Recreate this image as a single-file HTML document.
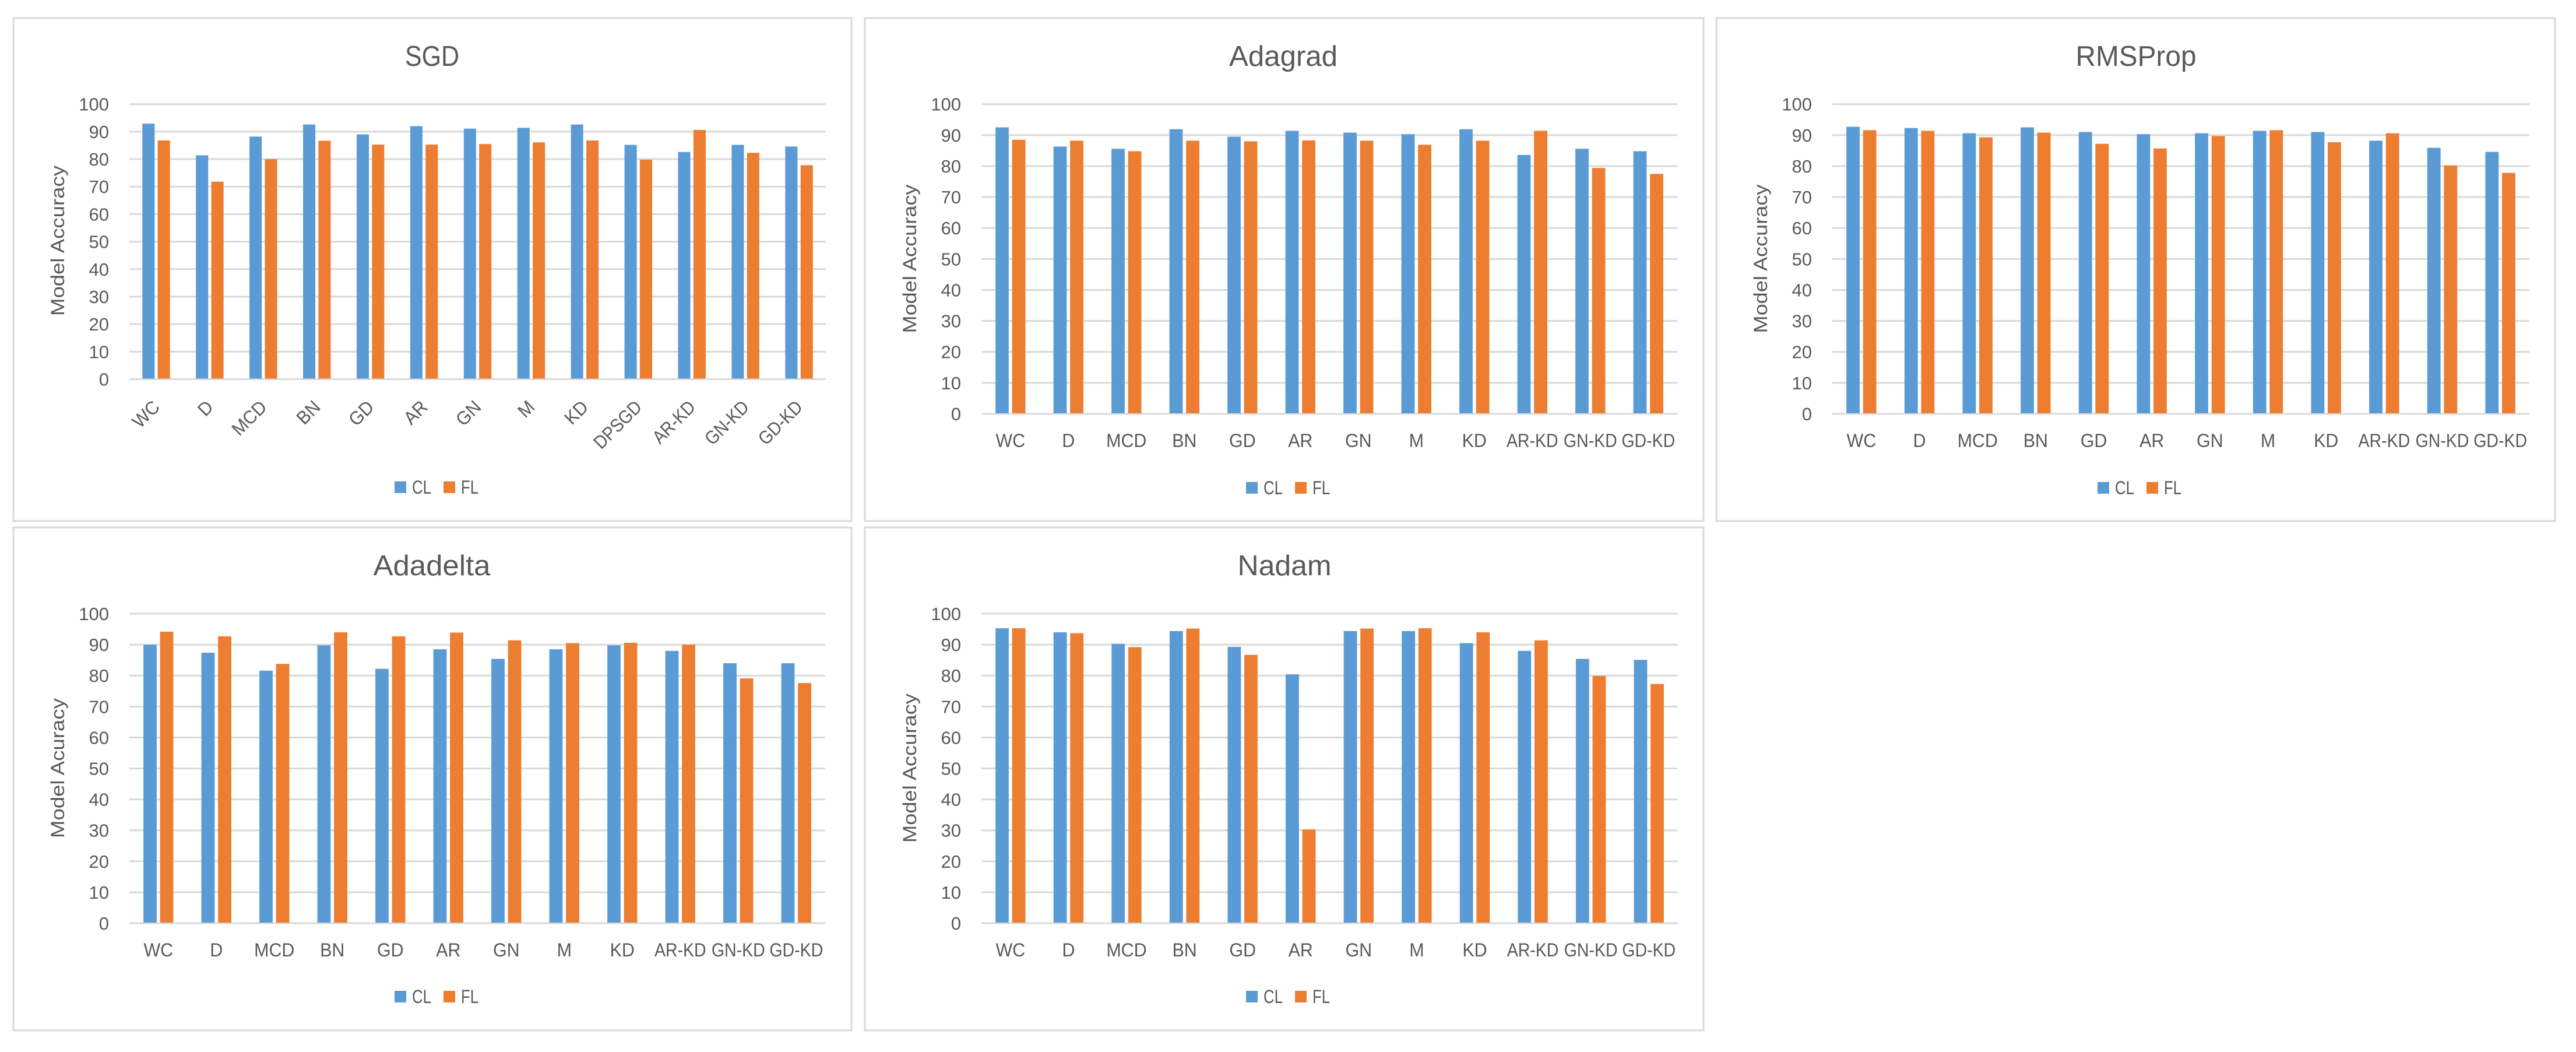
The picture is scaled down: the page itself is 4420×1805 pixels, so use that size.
<!DOCTYPE html>
<html lang="en">
<head>
<meta charset="utf-8">
<title>Model accuracy by optimizer</title>
<style>
html,body{margin:0;padding:0;background:#fff;width:4420px;height:1805px;overflow:hidden}
svg{display:block;font-family:"Liberation Sans",sans-serif}
</style>
</head>
<body>
<svg id="figure" xmlns="http://www.w3.org/2000/svg" width="4420" height="1805" viewBox="0 0 4420 1805"></svg>
<script>
const labels13 = ["WC","D","MCD","BN","GD","AR","GN","M","KD","DPSGD","AR-KD","GN-KD","GD-KD"];
const labels12 = ["WC","D","MCD","BN","GD","AR","GN","M","KD","AR-KD","GN-KD","GD-KD"];
const yTicks = [0,10,20,30,40,50,60,70,80,90,100];

const sgdCL = [92.9,81.4,88.2,92.6,89.0,92.0,91.1,91.4,92.6,85.2,82.6,85.2,84.6];
const sgdFL = [86.8,71.8,80.0,86.7,85.3,85.3,85.5,86.1,86.8,79.8,90.6,82.3,77.8];

const adagradCL = [92.5,86.3,85.6,91.9,89.5,91.4,90.8,90.3,91.9,83.6,85.6,84.8];
const adagradFL = [88.5,88.2,84.8,88.2,88.0,88.3,88.2,86.9,88.2,91.4,79.4,77.5];

const rmspropCL = [92.7,92.3,90.6,92.5,91.0,90.3,90.6,91.4,91.0,88.2,85.9,84.6];
const rmspropFL = [91.6,91.4,89.3,90.8,87.2,85.7,89.7,91.6,87.7,90.6,80.2,77.8];

const adadeltaCL = [90.0,87.4,81.6,89.8,82.2,88.5,85.4,88.5,89.8,88.0,84.0,84.0];
const adadeltaFL = [94.2,92.7,83.8,94.0,92.7,93.9,91.4,90.5,90.6,90.0,79.1,77.6];

const nadamCL = [95.3,94.0,90.3,94.4,89.3,80.4,94.4,94.4,90.5,88.0,85.4,85.1];
const nadamFL = [95.3,93.7,89.2,95.2,86.7,30.3,95.2,95.3,94.0,91.4,79.9,77.3];

const NS = "http://www.w3.org/2000/svg";
const TEXT = "#595959", GRID = "#d9d9d9", BLUE = "#5b9bd5", ORANGE = "#ed7d31";
const figure = document.getElementById("figure");

function makeText(parent, str, x, y, size, anchor, width) {
  const t = document.createElementNS(NS, "text");
  t.textContent = str;
  t.setAttribute("x", x);
  t.setAttribute("y", y);
  t.setAttribute("font-size", size);
  t.setAttribute("fill", TEXT);
  t.setAttribute("text-anchor", anchor);
  if (width) {
    t.setAttribute("textLength", width);
    t.setAttribute("lengthAdjust", "spacingAndGlyphs");
  }
  parent.appendChild(t);
  return t;
}

function makeRect(parent, x, y, w, h, fill) {
  const r = document.createElementNS(NS, "rect");
  r.setAttribute("x", x);
  r.setAttribute("y", y);
  r.setAttribute("width", w);
  r.setAttribute("height", h);
  r.setAttribute("fill", fill);
  parent.appendChild(r);
  return r;
}

function drawPanel(p) {
  const g = document.createElementNS(NS, "g");
  
  
  figure.appendChild(g);

  const card = makeRect(g, p.cardX, p.cardY, p.cardW, p.cardH, "#ffffff");
  card.setAttribute("stroke", GRID);
  card.setAttribute("stroke-width", "3");
  
  

  const yScale = v => p.y0 - (v / 100) * (p.y0 - p.y100);
  const band = (p.x1 - p.x0) / p.categories.length;
  const xCenter = i => p.x0 + band * (i + 0.5);
  const barW = band * 0.229;
  const halfGap = band * 0.029;

  const title = makeText(g, p.title, p.titleX, p.titleY, 49, "middle", p.titleW);
  
  

  const yTitle = makeText(g, p.yLabel, 0, 0, 32, "middle", p.yTitleLen);
  yTitle.setAttribute("transform", "translate(" + p.yTitleX + "," + p.yTitleY + ") rotate(-90)");
  
  

  yTicks.forEach(v => {
    const y = yScale(v);
    const line = document.createElementNS(NS, "line");
    line.setAttribute("x1", p.x0);
    line.setAttribute("x2", p.x1);
    line.setAttribute("y1", y);
    line.setAttribute("y2", y);
    line.setAttribute("stroke", GRID);
    line.setAttribute("stroke-width", "3");
    
    
    g.appendChild(line);

    const tick = makeText(g, String(v), p.x0 - 35, y + 11, 31, "end");
    
    
  });

  p.categories.forEach((cat, i) => {
    const cx = xCenter(i);
    const base = p.y0 - 1;

    const clTop = yScale(p.cl[i]);
    const clBar = makeRect(g, cx - halfGap - barW, clTop, barW, base - clTop, BLUE);
    
    

    const flTop = yScale(p.fl[i]);
    const flBar = makeRect(g, cx + halfGap, flTop, barW, base - flTop, ORANGE);
    
    

    const squeeze = cat.length > 3 ? 0.89 : 0.95;
    let label;
    if (p.rotated) {
      label = makeText(g, cat, 0, 0, 32, "end");
      label.setAttribute("transform", "translate(" + (cx + 8) + "," + (p.y0 + 50) + ") rotate(-45)");
    } else {
      label = makeText(g, cat, cx, p.y0 + 57, 32, "middle");
    }
    
    
    const w = label.getComputedTextLength();
    label.setAttribute("textLength", (w * squeeze).toFixed(1));
    label.setAttribute("lengthAdjust", "spacingAndGlyphs");
  });

  const ly = p.legendY;
  const clSwatch = makeRect(g, p.cardX + 654, ly - 10, 20, 20, BLUE);
  
  

  const clText = makeText(g, "CL", p.cardX + 684, ly + 11, 32, "start", 33);
  
  

  const flSwatch = makeRect(g, p.cardX + 738, ly - 10, 20, 20, ORANGE);
  
  

  const flText = makeText(g, "FL", p.cardX + 768, ly + 11, 32, "start", 30);
  
  
}

drawPanel({key:"sgd", title:"SGD", yLabel:"Model Accuracy", categories:labels13, cl:sgdCL, fl:sgdFL, rotated:true,
  cardX:23, cardY:31, cardW:1438, cardH:863, x0:222, x1:1417, y100:178.7, y0:650.5,
  titleX:741.5, titleY:113, titleW:93, yTitleX:110, yTitleY:413, yTitleLen:258, legendY:836});

drawPanel({key:"adagrad", title:"Adagrad", yLabel:"Model Accuracy", categories:labels12, cl:adagradCL, fl:adagradFL, rotated:false,
  cardX:1484, cardY:31, cardW:1439, cardH:863, x0:1684, x1:2878, y100:178.7, y0:710,
  titleX:2202, titleY:113, titleW:186, yTitleX:1572, yTitleY:444, yTitleLen:255, legendY:837});

drawPanel({key:"rmsprop", title:"RMSProp", yLabel:"Model Accuracy", categories:labels12, cl:rmspropCL, fl:rmspropFL, rotated:false,
  cardX:2945, cardY:31, cardW:1439, cardH:863, x0:3144, x1:4340, y100:178.7, y0:710,
  titleX:3665, titleY:113, titleW:207, yTitleX:3032, yTitleY:444, yTitleLen:255, legendY:837});

drawPanel({key:"adadelta", title:"Adadelta", yLabel:"Model Acuracy", categories:labels12, cl:adadeltaCL, fl:adadeltaFL, rotated:false,
  cardX:23, cardY:905, cardW:1438, cardH:863, x0:222, x1:1416, y100:1053, y0:1584,
  titleX:741, titleY:987, titleW:201, yTitleX:110, yTitleY:1318, yTitleLen:240, legendY:1710});

drawPanel({key:"nadam", title:"Nadam", yLabel:"Model Accuracy", categories:labels12, cl:nadamCL, fl:nadamFL, rotated:false,
  cardX:1484, cardY:905, cardW:1439, cardH:863, x0:1684, x1:2879, y100:1053, y0:1584,
  titleX:2204, titleY:987, titleW:161, yTitleX:1572, yTitleY:1318, yTitleLen:256, legendY:1710});
</script>
</body>
</html>
